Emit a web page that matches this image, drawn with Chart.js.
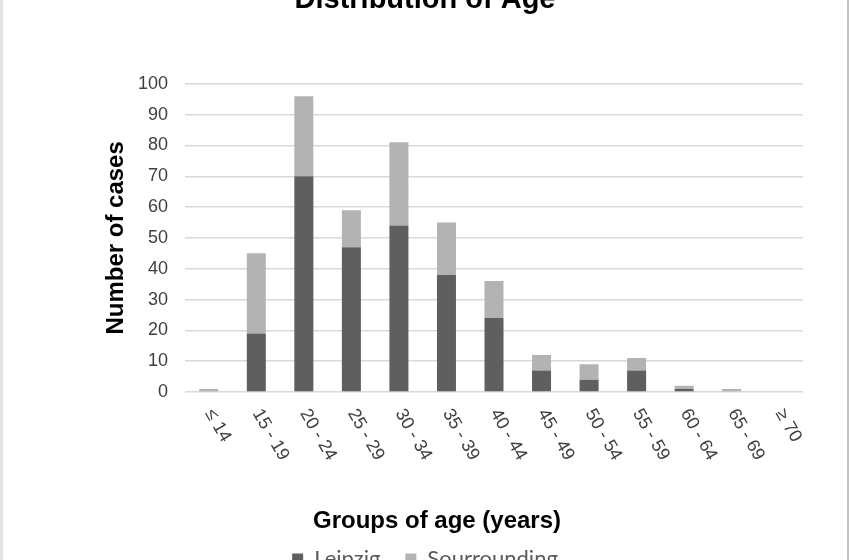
<!DOCTYPE html>
<html>
<head>
<meta charset="utf-8">
<script src="https://cdn.jsdelivr.net/npm/chart.js@4.4.1/dist/chart.umd.min.js"></script>
<style>
  html, body { margin: 0; padding: 0; width: 850px; height: 560px; overflow: hidden; background: #fff; }
  #wrap { position: absolute; left: 0; top: -40px; width: 850px; height: 630px; }
  #frame { position: absolute; left: 0; top: 0; width: 849px; height: 560px; box-sizing: border-box;
           border-left: 3px solid #e3e3e3; border-right: 2px solid #c4c4c4; pointer-events: none; }
</style>
</head>
<body>
<div id="wrap"><canvas id="ageChart" width="850" height="630"></canvas></div>
<div id="frame"></div>
<script>
const ageGroups = ["≤ 14", "15 - 19", "20 - 24", "25 - 29", "30 - 34", "35 - 39", "40 - 44",
                   "45 - 49", "50 - 54", "55 - 59", "60 - 64", "65 - 69", "≥ 70"];
const leipzig = [0, 19, 70, 47, 54, 38, 24, 7, 4, 7, 1, 0, 0];
const surrounding = [1, 26, 26, 12, 27, 17, 12, 5, 5, 4, 1, 1, 0];

const FONT = "'Liberation Sans', Arial, sans-serif";
Chart.defaults.font.family = FONT;

// Excel style slanted category labels + axis title (drawn by hand)
const slantedLabels = {
  id: "slantedLabels",
  afterDraw(chart) {
    const { ctx, chartArea, scales: { x } } = chart;
    ctx.save();
    ctx.font = "18px " + FONT;
    ctx.fillStyle = "#404040";
    ctx.textAlign = "left";
    ctx.textBaseline = "alphabetic";
    ageGroups.forEach((label, i) => {
      const px = x.getPixelForValue(i);
      ctx.save();
      ctx.translate(px - 4, chartArea.bottom + 21);
      ctx.rotate(Math.PI / 3);
      ctx.fillText(label, 0, 0);
      ctx.restore();
    });
    ctx.font = "bold 24px " + FONT;
    ctx.fillStyle = "#000";
    ctx.textAlign = "center";
    ctx.textBaseline = "middle";
    ctx.fillText("Groups of age (years)", 437, chartArea.bottom + 129);
    ctx.restore();
  }
};

const ctx = document.getElementById("ageChart").getContext("2d");
const ageChart = new Chart(ctx, {
  type: "bar",
  data: {
    labels: ageGroups,
    datasets: [
      { label: "Leipzig", data: leipzig, backgroundColor: "#5f5f5f", borderWidth: 0,
        barPercentage: 0.4, categoryPercentage: 1 },
      { label: "Sourrounding", data: surrounding, backgroundColor: "#b3b3b3", borderWidth: 0,
        barPercentage: 0.4, categoryPercentage: 1 }
    ]
  },
  options: {
    responsive: false,
    animation: false,
    layout: { padding: { left: 0, right: 0, top: 0, bottom: 10 } },
    plugins: {
      title: {
        display: true,
        text: "Distribution of Age",
        color: "#000",
        font: { size: 29, weight: "bold" },
        padding: { top: 23, bottom: 66 }
      },
      legend: {
        position: "bottom",
        labels: {
          font: { family: "Lato, 'Open Sans', sans-serif", size: 22 },
          color: "#595959",
          boxWidth: 11,
          boxHeight: 11,
          padding: 25
        }
      },
      tooltip: { enabled: false }
    },
    scales: {
      x: {
        stacked: true,
        grid: { display: false },
        border: { display: false },
        ticks: { display: false },
        afterFit(scale) { scale.height = 131; }
      },
      y: {
        stacked: true,
        min: 0,
        max: 100,
        ticks: { stepSize: 10, color: "#404040", font: { size: 18 }, padding: 17 },
        grid: { color: "#d9d9d9", lineWidth: 1.5, drawTicks: false },
        border: { display: false },
        title: {
          display: true,
          text: "Number of cases",
          color: "#000",
          font: { size: 24, weight: "bold" },
          padding: { top: 102, bottom: 0 }
        },
        afterFit(scale) { scale.width = 185; }
      },
      spacer: {
        position: "right",
        display: true,
        grid: { display: false },
        border: { display: false },
        ticks: { display: false },
        afterFit(scale) { scale.width = 47; }
      }
    }
  },
  plugins: [slantedLabels]
});
</script>
</body>
</html>
